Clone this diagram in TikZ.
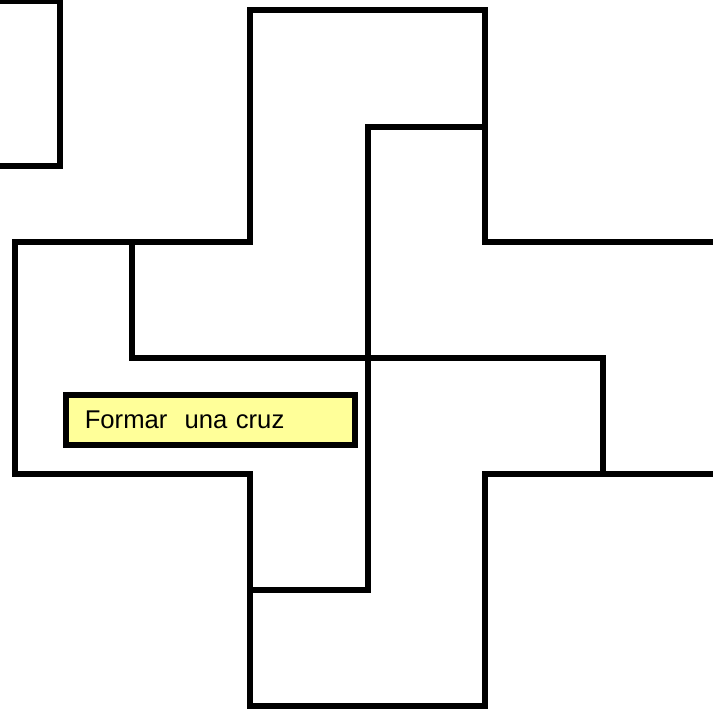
\documentclass[tikz,border=0pt]{standalone}
\usepackage{fontspec}
\setmainfont{Liberation Sans}
\usepackage{tikz}
\usetikzlibrary{positioning}
\definecolor{notefill}{HTML}{FFFF99}
\tikzset{
  wall/.style={draw=black, line width=3.2pt, line join=miter},
  notebox/.style={draw=black, line width=3.2pt, fill=notefill, anchor=north west,
        minimum width=5.78cm, minimum height=1.0cm, inner xsep=0.38cm,
        text width=5.02cm, align=left, font=\fontsize{14.6}{17}\selectfont}
}

\begin{document}
\begin{tikzpicture}[x=0.02cm, y=-0.02cm]
  \useasboundingbox (0,0) rectangle (713,709);
  % piece cut by the left edge
  \draw[wall] (-10,1.5) -- (60,1.5) -- (60,166) -- (-10,166);
  % outline of the cross
  \draw[wall] (723,242) -- (485,242) -- (485,10) -- (250,10) -- (250,242)
    -- (15,242) -- (15,474) -- (250,474) -- (250,706) -- (485,706)
    -- (485,474) -- (723,474);
  % inner cuts
  \draw[wall] (485,127) -- (368,127) -- (368,590) -- (250,590);
  \draw[wall] (132,242) -- (132,358) -- (603,358) -- (603,474);
  % label
  \node[notebox] (cruz) at (63,392) {Formar\ \ una cruz};
\end{tikzpicture}
\end{document}
